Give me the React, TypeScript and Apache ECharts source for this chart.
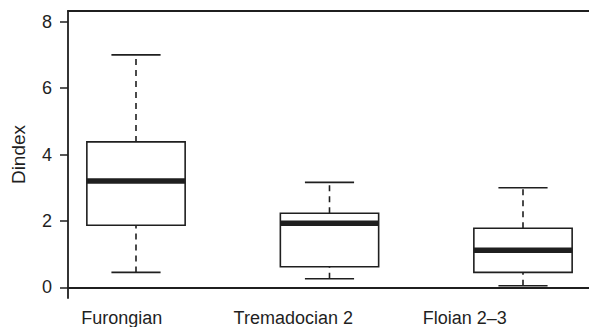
import React, { useEffect, useRef } from "react";
import * as echarts from "echarts";

const categories = ["Furongian", "Tremadocian 2", "Floian 2\u20133"];
// [lower whisker, Q1, median, Q3, upper whisker]
const lowWhisker = [0.45, 0.26, 0.05];
const q1 = [1.87, 0.62, 0.45];
const median = [3.2, 1.93, 1.12];
const q3 = [4.38, 2.23, 1.78];
const highWhisker = [7.0, 3.16, 3.0];
const yTicks = [0, 2, 4, 6, 8];

const INK = "#1f1f1f";
const FONT = "'Liberation Sans', Arial, Helvetica, sans-serif";

export default function App() {
  const ref = useRef<HTMLDivElement>(null);
  useEffect(() => {
    document.body.style.margin = "0";
    const chart = echarts.init(ref.current!, null, { renderer: "svg" });
    const data = categories.map((c, i) => [
      i + 1,
      lowWhisker[i],
      q1[i],
      median[i],
      q3[i],
      highWhisker[i],
    ]);
    const boxHalf = 0.254;
    const capHalf = 0.127;
    const xMin = 1 - 68 / 193.5;
    const xMax = 1 + (589 - 136) / 193.5;
    const frame = { show: true, lineStyle: { color: INK, width: 1.8 } };
    chart.setOption({
      animation: false,
      backgroundColor: "#ffffff",
      grid: [
        { left: 68, top: 11, right: 0, height: 287, show: false },
        { left: 36, top: 11, width: 514.5, height: 287, show: false },
      ],
      xAxis: [
        {
          type: "value",
          gridIndex: 0,
          position: "bottom",
          min: xMin,
          max: xMax,
          axisLine: frame,
          axisTick: { show: false },
          axisLabel: { show: false },
          splitLine: { show: false },
        },
        {
          type: "value",
          gridIndex: 0,
          position: "top",
          min: xMin,
          max: xMax,
          axisLine: frame,
          axisTick: { show: false },
          axisLabel: { show: false },
          splitLine: { show: false },
        },
        {
          type: "category",
          gridIndex: 1,
          data: categories,
          boundaryGap: true,
          axisLine: { show: false },
          axisTick: { show: false },
          axisLabel: {
            show: true,
            margin: 11,
            color: INK,
            fontSize: 18,
            fontFamily: FONT,
          },
        },
      ],
      yAxis: [
        {
          type: "value",
          gridIndex: 0,
          min: -0.32,
          max: 8.32,
          name: "Dindex",
          nameLocation: "middle",
          nameGap: 40,
          nameRotate: 90,
          nameTextStyle: { color: INK, fontSize: 19, fontFamily: FONT },
          axisLine: frame,
          axisTick: {
            show: true,
            length: 8,
            customValues: yTicks,
            lineStyle: { color: INK, width: 1.5 },
          },
          axisLabel: {
            margin: 16,
            color: INK,
            fontSize: 18,
            fontFamily: FONT,
            customValues: yTicks,
          },
          splitLine: { show: false },
        },
        { type: "value", gridIndex: 1, show: false, min: 0, max: 1 },
      ],
      series: [
        {
          type: "custom",
          xAxisIndex: 0,
          yAxisIndex: 0,
          data,
          encode: { x: 0, y: [1, 2, 3, 4, 5] },
          renderItem: (params: any, api: any) => {
            const x = api.value(0);
            const pLo = api.coord([x, api.value(1)]);
            const pQ1 = api.coord([x, api.value(2)]);
            const pMed = api.coord([x, api.value(3)]);
            const pQ3 = api.coord([x, api.value(4)]);
            const pHi = api.coord([x, api.value(5)]);
            const bw = api.size([boxHalf, 0])[0];
            const cw = api.size([capHalf, 0])[0];
            const cx = pMed[0];
            const solid = { stroke: INK, lineWidth: 1.6, fill: null };
            const dashed = { stroke: INK, lineWidth: 1.6, lineDash: [6, 5] };
            return {
              type: "group",
              children: [
                {
                  type: "line",
                  shape: { x1: cx, y1: pQ3[1], x2: cx, y2: pHi[1] },
                  style: dashed,
                },
                {
                  type: "line",
                  shape: { x1: cx, y1: pLo[1], x2: cx, y2: pQ1[1] },
                  style: dashed,
                },
                {
                  type: "line",
                  shape: { x1: cx - cw, y1: pHi[1], x2: cx + cw, y2: pHi[1] },
                  style: solid,
                },
                {
                  type: "line",
                  shape: { x1: cx - cw, y1: pLo[1], x2: cx + cw, y2: pLo[1] },
                  style: solid,
                },
                {
                  type: "rect",
                  shape: {
                    x: cx - bw,
                    y: pQ3[1],
                    width: 2 * bw,
                    height: pQ1[1] - pQ3[1],
                  },
                  style: { stroke: INK, lineWidth: 1.6, fill: "#ffffff" },
                },
                {
                  type: "line",
                  shape: { x1: cx - bw, y1: pMed[1], x2: cx + bw, y2: pMed[1] },
                  style: { stroke: INK, lineWidth: 5.5 },
                },
              ],
            };
          },
        },
      ],
    });
    return () => chart.dispose();
  }, []);
  return <div ref={ref} style={{ width: 589, height: 327 }} />;
}
